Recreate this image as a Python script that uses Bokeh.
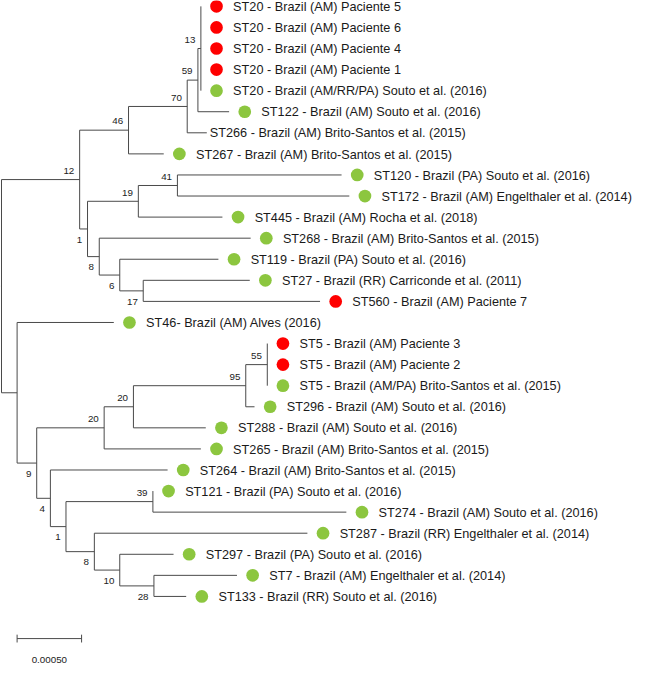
from bokeh.plotting import figure
from bokeh.models import Range1d, ColumnDataSource
from bokeh.embed import file_html
from bokeh.resources import INLINE
from bokeh.core.properties import value

# ---------------- DATA ----------------
# Internal nodes: id, parent, branch length (x1e-5 substitutions/site), bootstrap
int_id = ["root", "n12", "n46", "n70", "n59", "n13", "n1", "n19", "n41", "n8", "n6", "n17",
          "nx", "n9", "n20a", "n20b", "n95", "n55", "n4", "n1b", "n39", "n8b", "n10", "n28"]
int_parent = [None, "root", "n12", "n46", "n70", "n59", "n12", "n1", "n19", "n1", "n8", "n6",
              "root", "nx", "n9", "n20a", "n20b", "n95", "n9", "n4", "n1b", "n1b", "n8b", "n10"]
int_len_e5 = [0, 60.6, 37.9, 45.5, 8.3, 2.3, 6.1, 39.4, 30.3, 9.1, 15.9, 18.2,
              12.1, 15.2, 52.3, 22.7, 87.1, 16.7, 10.6, 12.1, 67.4, 22.0, 19.7, 26.5]
int_boot = [None, 12, 46, 70, 59, 13, 1, 19, 41, 8, 6, 17,
            None, 9, 20, 20, 95, 55, 4, 1, 39, 8, 10, 28]
int_boot_below = [False, False, False, False, False, False, True, False, False, True, True, True,
                  False, True, False, False, False, False, True, True, False, True, True, True]

# Leaves, top to bottom
leaf_label = [
    "ST20 - Brazil (AM) Paciente 5",
    "ST20 -  Brazil (AM) Paciente 6",
    "ST20 - Brazil (AM)  Paciente 4",
    "ST20 - Brazil (AM) Paciente 1",
    "ST20 - Brazil (AM/RR/PA) Souto et al. (2016)",
    "ST122 - Brazil (AM) Souto et al. (2016)",
    "ST266 - Brazil (AM) Brito-Santos et al. (2015)",
    "ST267 - Brazil (AM) Brito-Santos et al. (2015)",
    "ST120 - Brazil (PA) Souto et al. (2016)",
    "ST172 - Brazil (AM) Engelthaler et al. (2014)",
    "ST445 - Brazil (AM) Rocha et al. (2018)",
    "ST268 - Brazil (AM) Brito-Santos et al. (2015)",
    "ST119 - Brazil  (PA) Souto et al. (2016)",
    "ST27 - Brazil (RR) Carriconde et al. (2011)",
    "ST560 - Brazil (AM) Paciente 7",
    "ST46- Brazil (AM) Alves (2016)",
    "ST5 - Brazil (AM) Paciente 3",
    "ST5 - Brazil (AM) Paciente 2",
    "ST5 - Brazil (AM/PA) Brito-Santos et al. (2015)",
    "ST296 - Brazil (AM) Souto et al. (2016)",
    "ST288 - Brazil (AM) Souto et al. (2016)",
    "ST265 - Brazil (AM) Brito-Santos et al. (2015)",
    "ST264 - Brazil (AM) Brito-Santos et al. (2015)",
    "ST121 - Brazil (PA) Souto et al. (2016)",
    "ST274 - Brazil (AM) Souto et al. (2016)",
    "ST287 - Brazil (RR) Engelthaler et al. (2014)",
    "ST297 - Brazil (PA) Souto et al. (2016)",
    "ST7 - Brazil (AM) Engelthaler et al. (2014)",
    "ST133 - Brazil (RR) Souto et al. (2016)",
]
leaf_parent = ["n13"] * 5 + ["n59", "n70", "n46", "n41", "n41", "n19", "n8", "n6", "n17", "n17",
                             "nx", "n55", "n55", "n55", "n95", "n20b", "n20a", "n4", "n39", "n39",
                             "n8b", "n10", "n28", "n28"]
leaf_len_e5 = [0, 0, 0, 0, 0, 24.2, 15.2, 27.3, 127.3, 133.3, 65.2, 117.4, 76.5, 82.6, 137.1,
               75.0, 0, 0, 0, 6.8, 56.1, 75.0, 90.9, 0, 150.0, 165.2, 41.7, 64.4, 25.0]
# P = patient isolate (red), R = reference (green), "" = no marker
leaf_group = ["P", "P", "P", "P", "R", "R", "", "R", "R", "R", "R", "R", "R", "R", "P", "R",
              "P", "P", "R", "R", "R", "R", "R", "R", "R", "R", "R", "R", "R"]

scale_bar_len = 0.0005
scale_bar_label = "0.00050"

# ---------------- LAYOUT ----------------
S = 0.977                 # overall scale of the picture
PX_PER_UNIT = 132000.0    # reference pixels per substitution/site
PX_PER_LEAF = 21.57       # reference pixels between leaves
W, H = 633, 666

# x positions
xpos = {}
for nid, par, bl in zip(int_id, int_parent, int_len_e5):
    xpos[nid] = 0.0 if par is None else xpos[par] + bl * 1e-5
leaf_x = [xpos[p] + bl * 1e-5 for p, bl in zip(leaf_parent, leaf_len_e5)]

# children
children = {nid: [] for nid in int_id}
for nid, par in zip(int_id, int_parent):
    if par is not None:
        children[par].append(("i", nid))
for i, par in enumerate(leaf_parent):
    children[par].append(("l", i))

ypos = {}
yspan = {}


def compute_y(nid):
    ys = []
    for kind, c in children[nid]:
        if kind == "l":
            ys.append(float(c))
        else:
            ys.append(compute_y(c))
    yspan[nid] = (min(ys), max(ys))
    ypos[nid] = (min(ys) + max(ys)) / 2.0
    return ypos[nid]


compute_y("root")

# segments
hx0, hx1, hy = [], [], []
for nid, par in zip(int_id, int_parent):
    if par is not None:
        hx0.append(xpos[par]); hx1.append(xpos[nid]); hy.append(ypos[nid])
for i, par in enumerate(leaf_parent):
    if leaf_len_e5[i] > 0:
        hx0.append(xpos[par]); hx1.append(leaf_x[i]); hy.append(float(i))
# root stub
hx0.append(-0.6 / PX_PER_UNIT); hx1.append(0.0); hy.append(ypos["root"])

vx, vy0, vy1 = [], [], []
for nid in int_id:
    vx.append(xpos[nid]); vy0.append(yspan[nid][0]); vy1.append(yspan[nid][1])

x_start = -1.0 / (PX_PER_UNIT * S)
x_end = x_start + W / (PX_PER_UNIT * S)
y_top = -6.0 / PX_PER_LEAF
y_bottom = y_top + H / (PX_PER_LEAF * S)

p = figure(width=W, height=H, output_backend="svg", toolbar_location=None,
           x_range=Range1d(x_start, x_end), y_range=Range1d(y_bottom, y_top),
           x_axis_location=None, y_axis_location=None, min_border=0)
p.grid.visible = False
p.outline_line_color = None
p.background_fill_color = "white"
p.border_fill_color = "white"

line_col = "#4a4a4a"
p.segment(x0=hx0, y0=hy, x1=hx1, y1=hy, line_color=line_col, line_width=1)
p.segment(x0=vx, y0=vy0, x1=vx, y1=vy1, line_color=line_col, line_width=1)

# markers
colors = {"P": "#ff0000", "R": "#8cc63f"}
mx, my, mc = [], [], []
for i, g in enumerate(leaf_group):
    if g:
        mx.append(leaf_x[i] + 16 / PX_PER_UNIT)
        my.append(float(i))
        mc.append(colors[g])
p.scatter(x=mx, y=my, size=13 * S, marker="circle", fill_color=mc, line_color=None)

# tip labels
tx = [leaf_x[i] + (33 if g else 3) / PX_PER_UNIT for i, g in enumerate(leaf_group)]
ty = [float(i) + 0.03 for i in range(len(leaf_label))]
p.text(x=tx, y=ty, text=leaf_label, text_font=value("Liberation Sans"),
       text_font_size=value("12.7px"), text_color="#1a1a1a",
       text_baseline="middle", text_align="left")

# bootstrap labels
bx, by, bt = [], [], []
for nid, b, below in zip(int_id, int_boot, int_boot_below):
    if b is None:
        continue
    bx.append(xpos[nid] - 5.5 / PX_PER_UNIT)
    by.append(ypos[nid] + (11 if below else -9) / PX_PER_LEAF)
    bt.append(str(b))
p.text(x=bx, y=by, text=bt, text_font=value("Liberation Sans"),
       text_font_size=value("9.8px"), text_color="#222222",
       text_baseline="middle", text_align="right")

# scale bar
sb_x0 = xpos["nx"]
sb_y = 30.0
tick = 4 / PX_PER_LEAF
p.segment(x0=[sb_x0, sb_x0, sb_x0 + scale_bar_len], y0=[sb_y, sb_y - tick, sb_y - tick],
          x1=[sb_x0 + scale_bar_len, sb_x0, sb_x0 + scale_bar_len], y1=[sb_y, sb_y + tick, sb_y + tick],
          line_color=line_col, line_width=1)
p.text(x=[sb_x0 + scale_bar_len / 2], y=[31.02], text=[scale_bar_label],
       text_font=value("Liberation Sans"), text_font_size=value("9.8px"),
       text_color="#222222", text_baseline="middle", text_align="center")

open("out.html", "w").write(file_html(p, INLINE))
